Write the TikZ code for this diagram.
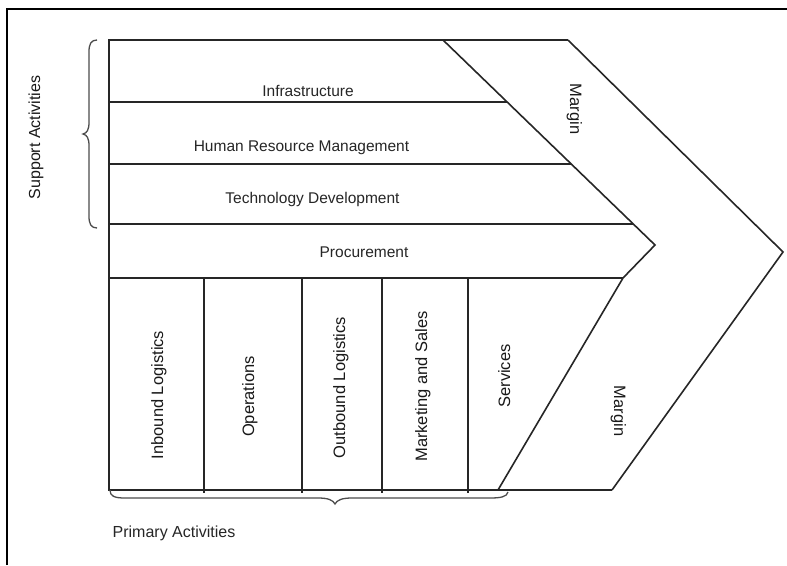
\documentclass[tikz,border=0pt]{standalone}
\usepackage{fontspec}
\setmainfont{Liberation Sans}
\begin{document}
\begin{tikzpicture}[x=1pt,y=-1pt,
  frame/.style={line width=2.4pt,black},
  chain/.style={line width=1.6pt,black!85,line join=miter},
  bracket/.style={line width=1.3pt,black!70},
  hlabel/.style={font=\fontsize{15.5}{18}\selectfont,inner sep=0pt,anchor=base,text=black!85},
  vlabel/.style={font=\fontsize{16.5}{19}\selectfont,inner sep=0pt,anchor=base,text=black!90},
]
\useasboundingbox (0,0) rectangle (787,565);
\fill[white] (0,0) rectangle (787,565);

% page frame
\draw[frame] (7,565) -- (7,9) -- (787,9);

% key points of the value chain outline
\coordinate (tl) at (109,40);
\coordinate (bl) at (109,490);
\coordinate (itop) at (443,40);
\coordinate (itip) at (655,245);
\coordinate (ikink) at (623,278);
\coordinate (ibot) at (498,490);
\coordinate (otop) at (568,40);
\coordinate (otip) at (783,252);
\coordinate (obot) at (612,490);

% outline
\draw[chain] (otop) -- (tl) -- (bl) -- (obot);
\draw[chain] (itop) -- (itip) -- (ikink) -- (ibot);
\draw[chain] (otop) -- (otip) -- (obot);

% support activity rows
\draw[chain] (109,102) -- (507,102);
\draw[chain] (109,164) -- (571,164);
\draw[chain] (109,224) -- (633,224);
\draw[chain] (109,278) -- (ikink);

% primary activity columns
\foreach \cx in {204,302,382,468}
  \draw[chain] (\cx,278) -- (\cx,493);

% braces
\draw[bracket] (97,40) .. controls (91,40) and (89,44) .. (89,52) -- (89,122)
  .. controls (89,130) and (87,133) .. (83,134)
  .. controls (87,135) and (89,138) .. (89,146) -- (89,216)
  .. controls (89,224) and (91,228) .. (97,228);
\draw[bracket] (110,490) .. controls (110,496) and (114,498) .. (125,498) -- (318,498)
  .. controls (328,498) and (333,500) .. (335,504)
  .. controls (337,500) and (342,498) .. (352,498) -- (490,498)
  .. controls (500,498) and (507,497) .. (508,492);

% support activity labels
\node[hlabel] (infra) at (308,96) {Infrastructure};
\node[hlabel] (hrm) at (301.5,151) {Human Resource Management};
\node[hlabel] (tech) at (312.5,203) {Technology Development};
\node[hlabel] (proc) at (364,257) {Procurement};

% primary activity labels
\node[vlabel,rotate=90] (inb) at (163,395) {Inbound Logistics};
\node[vlabel,rotate=90] (ops) at (254,396.5) {Operations};
\node[vlabel,rotate=90] (outb) at (345,387.5) {Outbound Logistics};
\node[vlabel,rotate=90] (mkt) at (427,386.5) {Marketing and Sales};
\node[vlabel,rotate=90] (serv) at (510,376) {Services};

% margin labels
\node[vlabel,rotate=-90] (mtop) at (570,109) {Margin};
\node[vlabel,rotate=-90] (mbot) at (614,411) {Margin};

% group captions
\node[vlabel,rotate=90,font=\fontsize{16}{19}\selectfont] (supp) at (40,137.5) {Support Activities};
\node[hlabel,font=\fontsize{16}{19}\selectfont] (prim) at (174,537) {Primary Activities};
\end{tikzpicture}
\end{document}
